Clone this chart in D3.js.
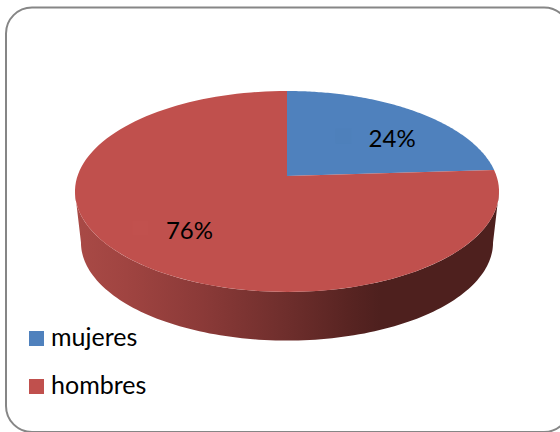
<!DOCTYPE html>
<html><head><meta charset="utf-8">
<script src="https://cdn.jsdelivr.net/npm/d3@7"></script>
<style>html,body{margin:0;padding:0;background:#fff;overflow:hidden}svg{display:block}text{font-family:Lato,sans-serif;fill:#000}</style>
</head><body><svg id="c" width="560" height="432"></svg>
<script>
const categories = ["mujeres","hombres"];
const values = [24,76];
const labels = ["24%","76%"];
const colors = ["#4f81bd","#c0504d"];
const keyTints = ["#4e80bb","#c1514e"];
const sideStops = [[0,"#a94a46"],[0.12,"#a04441"],[0.3,"#8b3a38"],[0.5,"#6e2e2c"],[0.66,"#562321"],[0.72,"#4e201e"],[1,"#4e201e"]];

const svg = d3.select("#c");
svg.append("rect").attr("x",6).attr("y",7.5).attr("width",564).attr("height",424.5).attr("rx",26)
  .attr("fill","#fff").attr("stroke","#868686").attr("stroke-width",2);

// projective mapping of a unit disc to the tilted pie
const k=-0.154, cx=287, cy=176, a=209.5, b=98.1;
const project=(ang,r=1)=>{const u=r*Math.sin(ang),v=-r*Math.cos(ang),d=1+k*v;return [cx+a*u/d,cy+b*v/d];};
const pie=d3.pie().sort(null).value(d=>d)(values);
const line=d3.line();
const arcPts=(s,e)=>d3.range(0,121).map(i=>project(s+(e-s)*i/120));

// side wall
const defs=svg.append("defs");
const g=defs.append("linearGradient").attr("id","side").attr("gradientUnits","userSpaceOnUse")
  .attr("x1",75).attr("x2",499).attr("y1",0).attr("y2",0);
sideStops.forEach(s=>g.append("stop").attr("offset",s[0]).attr("stop-color",s[1]));
const sx=d3.scaleLinear().domain([75,499]).range([81,493]);
const rAng=Math.acos(k), lAng=2*Math.PI-rAng;
const topArc=arcPts(rAng,lAng);
const botArc=topArc.map(p=>[sx(p[0]),cy+(p[1]-cy)*0.975+51.5]).reverse();
svg.append("path").attr("d",line(topArc.concat(botArc))+"Z").attr("fill","url(#side)");

// top face
pie.forEach((p,i)=>{
  svg.append("path").attr("d",line([[cx,cy],...arcPts(p.startAngle,p.endAngle)])+"Z").attr("fill",colors[i]);
});

// data labels, each with its faint leftover key
const nudge=[[22,3],[-2,6]];
pie.forEach((p,i)=>{
  const q=project((p.startAngle+p.endAngle)/2,0.62);
  const lx=q[0]+nudge[i][0], ly0=q[1]+nudge[i][1];
  svg.append("rect").attr("x",lx-57).attr("y",ly0-9).attr("width",16).attr("height",15).attr("fill",keyTints[i]);
  svg.append("text").attr("x",lx).attr("y",ly0).attr("text-anchor","middle").attr("dominant-baseline","central")
    .attr("font-size",24).text(labels[i]);
});

// legend
const ly=d3.scalePoint().domain(categories).range([338.5,386.5]);
categories.forEach((c,i)=>{
  svg.append("rect").attr("x",29).attr("y",ly(c)-7.5).attr("width",15).attr("height",15).attr("fill",colors[i]);
  svg.append("text").attr("x",51).attr("y",ly(c)+7.5).attr("font-size",25).text(c);
});
</script></body></html>
